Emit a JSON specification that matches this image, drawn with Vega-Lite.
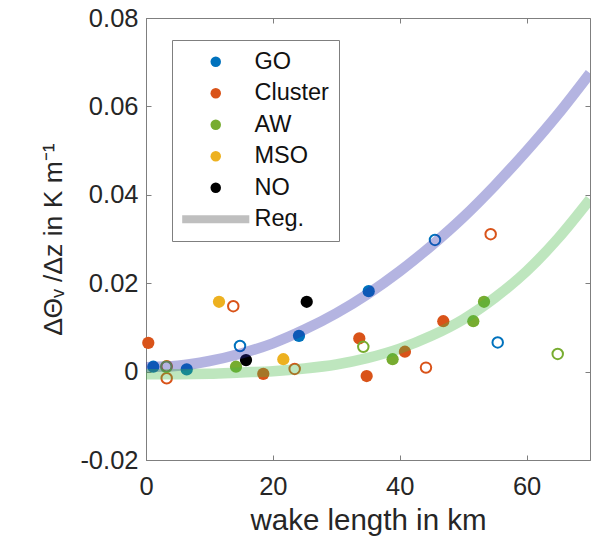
{
  "$schema": "https://vega.github.io/schema/vega-lite/v6.json",
  "width": 444,
  "height": 442,
  "autosize": {"type": "none"},
  "padding": {"left": 146, "top": 18, "right": 3, "bottom": 82},
  "background": "white",
  "config": {
    "font": "Liberation Sans",
    "view": {"stroke": "#7f7f7f", "strokeWidth": 1},
    "axis": {
      "grid": false,
      "domainColor": "#7f7f7f",
      "tickColor": "#7f7f7f",
      "tickSize": -5,
      "labelFontSize": 25.5,
      "labelColor": "#262626",
      "titleFontSize": 29.5,
      "titleFontWeight": "normal",
      "titleColor": "#262626",
      "labelFont": "Liberation Sans",
      "titleFont": "Liberation Sans"
    },
    "legend": {
      "orient": "none",
      "legendX": 26,
      "legendY": 22,
      "fillColor": "white",
      "strokeColor": "#7f7f7f",
      "padding": 10,
      "labelFontSize": 23.5,
      "labelColor": "#111111",
      "labelFont": "Liberation Sans",
      "symbolSize": 110,
      "symbolStrokeWidth": 0,
      "rowPadding": 6.5,
      "symbolOffset": 22,
      "labelOffset": 27
    }
  },
  "datasets": {
    "pts": [
      {"x": 1.15, "y": 0.0011, "group": "GO", "type": "filled"},
      {"x": 6.42, "y": 0.0005, "group": "GO", "type": "filled"},
      {"x": 24.12, "y": 0.0081, "group": "GO", "type": "filled"},
      {"x": 35.11, "y": 0.0182, "group": "GO", "type": "filled"},
      {"x": 14.82, "y": 0.0058, "group": "GO", "type": "open"},
      {"x": 45.56, "y": 0.0298, "group": "GO", "type": "open"},
      {"x": 55.45, "y": 0.0066, "group": "GO", "type": "open"},
      {"x": 0.36, "y": 0.0065, "group": "Cluster", "type": "filled"},
      {"x": 18.49, "y": -0.0005, "group": "Cluster", "type": "filled"},
      {"x": 33.63, "y": 0.0075, "group": "Cluster", "type": "filled"},
      {"x": 34.79, "y": -0.001, "group": "Cluster", "type": "filled"},
      {"x": 40.82, "y": 0.0045, "group": "Cluster", "type": "filled"},
      {"x": 46.87, "y": 0.0114, "group": "Cluster", "type": "filled"},
      {"x": 3.26, "y": 0.0012, "group": "Cluster", "type": "open"},
      {"x": 3.26, "y": -0.0015, "group": "Cluster", "type": "open"},
      {"x": 13.76, "y": 0.0148, "group": "Cluster", "type": "open"},
      {"x": 23.44, "y": 0.0006, "group": "Cluster", "type": "open"},
      {"x": 44.14, "y": 0.0009, "group": "Cluster", "type": "open"},
      {"x": 54.34, "y": 0.0311, "group": "Cluster", "type": "open"},
      {"x": 14.19, "y": 0.0011, "group": "AW", "type": "filled"},
      {"x": 38.88, "y": 0.0028, "group": "AW", "type": "filled"},
      {"x": 51.6, "y": 0.0114, "group": "AW", "type": "filled"},
      {"x": 53.29, "y": 0.0158, "group": "AW", "type": "filled"},
      {"x": 3.2, "y": 0.0011, "group": "AW", "type": "open"},
      {"x": 34.26, "y": 0.0056, "group": "AW", "type": "open"},
      {"x": 64.91, "y": 0.004, "group": "AW", "type": "open"},
      {"x": 11.51, "y": 0.0158, "group": "MSO", "type": "filled"},
      {"x": 21.65, "y": 0.0028, "group": "MSO", "type": "filled"},
      {"x": 15.77, "y": 0.0026, "group": "NO", "type": "filled"},
      {"x": 25.34, "y": 0.0158, "group": "NO", "type": "filled"}
    ],
    "reg": [
      {"x": 0, "y": 0.001, "fit": "GO"},
      {"x": 5, "y": 0.0013, "fit": "GO"},
      {"x": 10, "y": 0.0024, "fit": "GO"},
      {"x": 15, "y": 0.0041, "fit": "GO"},
      {"x": 20, "y": 0.0064, "fit": "GO"},
      {"x": 25, "y": 0.0095, "fit": "GO"},
      {"x": 30, "y": 0.0132, "fit": "GO"},
      {"x": 35, "y": 0.0176, "fit": "GO"},
      {"x": 40, "y": 0.0227, "fit": "GO"},
      {"x": 45, "y": 0.0285, "fit": "GO"},
      {"x": 50, "y": 0.0349, "fit": "GO"},
      {"x": 55, "y": 0.0421, "fit": "GO"},
      {"x": 60, "y": 0.0499, "fit": "GO"},
      {"x": 65, "y": 0.0583, "fit": "GO"},
      {"x": 70, "y": 0.0675, "fit": "GO"},
      {"x": 0, "y": -0.0006, "fit": "AW"},
      {"x": 5, "y": -0.0006, "fit": "AW"},
      {"x": 10, "y": -0.0005, "fit": "AW"},
      {"x": 15, "y": -0.0002, "fit": "AW"},
      {"x": 20, "y": 0.0001, "fit": "AW"},
      {"x": 25, "y": 0.0007, "fit": "AW"},
      {"x": 30, "y": 0.0016, "fit": "AW"},
      {"x": 35, "y": 0.0031, "fit": "AW"},
      {"x": 40, "y": 0.0052, "fit": "AW"},
      {"x": 45, "y": 0.0081, "fit": "AW"},
      {"x": 50, "y": 0.0118, "fit": "AW"},
      {"x": 55, "y": 0.0167, "fit": "AW"},
      {"x": 60, "y": 0.0227, "fit": "AW"},
      {"x": 65, "y": 0.0302, "fit": "AW"},
      {"x": 70, "y": 0.039, "fit": "AW"}
    ]
  },
  "layer": [
    {
      "data": {"name": "pts"},
      "transform": [{"filter": "datum.type === 'filled'"}],
      "mark": {"type": "point", "filled": true, "opacity": 1, "size": 150},
      "encoding": {
        "x": {
          "field": "x", "type": "quantitative",
          "scale": {"domain": [0, 70], "nice": false, "zero": false},
          "axis": {"title": "wake length in km", "values": [0, 20, 40, 60], "labelPadding": 19, "titlePadding": 7, "labelFlush": false}
        },
        "y": {
          "field": "y", "type": "quantitative",
          "scale": {"domain": [-0.02, 0.08], "nice": false, "zero": false},
          "axis": {
            "title": "ΔΘᵥ /Δz in K m⁻¹",
            "titleFontSize": 26.5,
            "values": [-0.02, 0, 0.02, 0.04, 0.06, 0.08],
            "labelExpr": "datum.value == 0 ? '0' : replace(format(datum.value, '.2f'), '−', '-')",
            "labelPadding": 13,
            "titlePadding": 12,
            "labelFlush": false
          }
        },
        "color": {
          "field": "group", "type": "nominal",
          "scale": {
            "domain": ["GO", "Cluster", "AW", "MSO", "NO", "Reg."],
            "range": ["#0072BD", "#D95319", "#77AC30", "#EDB120", "#000000", "#BFBFBF"]
          },
          "legend": {"title": null}
        },
        "shape": {
          "field": "group", "type": "nominal",
          "scale": {
            "domain": ["GO", "Cluster", "AW", "MSO", "NO", "Reg."],
            "range": ["circle", "circle", "circle", "circle", "circle", "M-6.4,-0.75H6.4V0.75H-6.4Z"]
          },
          "legend": {"title": null}
        }
      }
    },
    {
      "data": {"name": "pts"},
      "transform": [{"filter": "datum.type === 'open'"}],
      "mark": {"type": "point", "filled": false, "opacity": 1, "size": 110, "strokeWidth": 2},
      "encoding": {
        "x": {"field": "x", "type": "quantitative", "axis": null},
        "y": {"field": "y", "type": "quantitative", "axis": null},
        "stroke": {
          "field": "group", "type": "nominal",
          "scale": {
            "domain": ["GO", "Cluster", "AW", "MSO", "NO", "Reg."],
            "range": ["#0072BD", "#D95319", "#77AC30", "#EDB120", "#000000", "#BFBFBF"]
          },
          "legend": null
        }
      }
    },
    {
      "data": {"name": "reg"},
      "transform": [{"filter": "datum.fit === 'GO'"}],
      "mark": {"type": "line", "color": "#2929A9", "opacity": 0.35, "strokeWidth": 10.5, "interpolate": "monotone", "clip": true, "strokeCap": "butt"},
      "encoding": {
        "x": {"field": "x", "type": "quantitative", "axis": null},
        "y": {"field": "y", "type": "quantitative", "axis": null}
      }
    },
    {
      "data": {"name": "reg"},
      "transform": [{"filter": "datum.fit === 'AW'"}],
      "mark": {"type": "line", "color": "#45B845", "opacity": 0.35, "strokeWidth": 10.5, "interpolate": "monotone", "clip": true, "strokeCap": "butt"},
      "encoding": {
        "x": {"field": "x", "type": "quantitative", "axis": null},
        "y": {"field": "y", "type": "quantitative", "axis": null}
      }
    },
    {
      "data": {"name": "pts"},
      "mark": {"type": "point", "opacity": 0},
      "encoding": {
        "x": {"field": "x", "type": "quantitative", "axis": {"orient": "top", "labels": false, "domain": false, "title": null, "values": [0, 20, 40, 60]}},
        "y": {"field": "y", "type": "quantitative", "axis": {"orient": "right", "labels": false, "domain": false, "title": null, "values": [-0.02, 0, 0.02, 0.04, 0.06, 0.08]}}
      }
    }
  ],
  "resolve": {"axis": {"x": "independent", "y": "independent"}}
}
